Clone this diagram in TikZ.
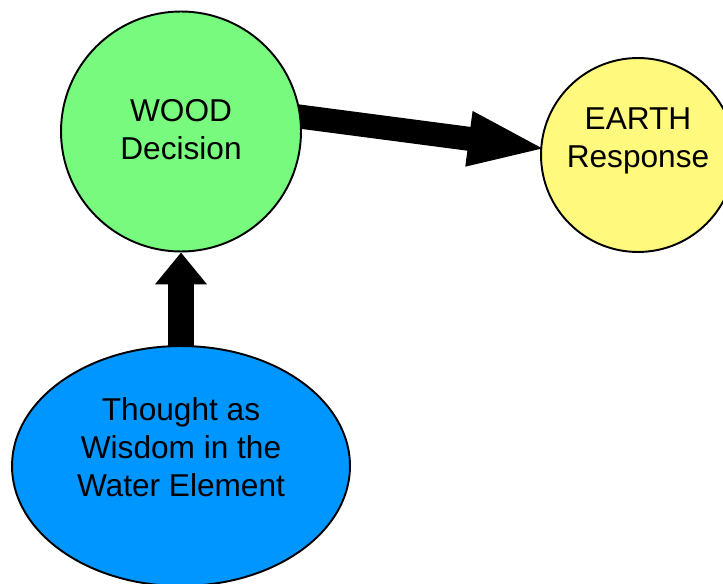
\documentclass[tikz,border=0pt]{standalone}
\usepackage{fontspec}
\setmainfont{Liberation Sans}
\usepackage{tikz}
\usetikzlibrary{arrows.meta, shapes.geometric, backgrounds}
\definecolor{woodgreen}{RGB}{119,250,125}
\definecolor{earthyellow}{RGB}{255,250,125}
\definecolor{waterblue}{RGB}{0,150,255}
\begin{document}
\begin{tikzpicture}[
    x=0.02cm, y=-0.02cm,
    element/.style={draw=black, line width=1.1pt, fill=#1, inner sep=0pt},
    phase/.style={element=#1, circle},
    elabel/.style={font=\fontsize{18}{21.6}\selectfont, align=center, text=black},
    bigarr/.style={line width=0.48cm, shorten <=-6pt},
]
\useasboundingbox (0,0) rectangle (723,584);
\node[phase=woodgreen, minimum size=4.8cm,
      label={[elabel, yshift=0.04cm]center:WOOD\\Decision}] (wood) at (181,131.5) {};
\node[phase=earthyellow, minimum size=3.88cm,
      label={[elabel, yshift=0.28cm]center:EARTH\\Response}] (earth) at (638,155) {};
\node[element=waterblue, ellipse, minimum width=6.76cm, minimum height=4.8cm,
      label={[elabel, yshift=0.38cm]center:Thought as\\Wisdom in the\\Water Element}] (water) at (181,466) {};

\begin{scope}[on background layer]
\draw[bigarr, shorten >=-0.16cm, -{Triangle[length=1.6cm, width=0.98cm]}] (wood.7) -- (earth.176);
\draw[bigarr, line width=0.52cm, -{Triangle[length=0.64cm, width=1.0cm]}] (water.north) -- (wood.south);
\end{scope}
\end{tikzpicture}
\end{document}
